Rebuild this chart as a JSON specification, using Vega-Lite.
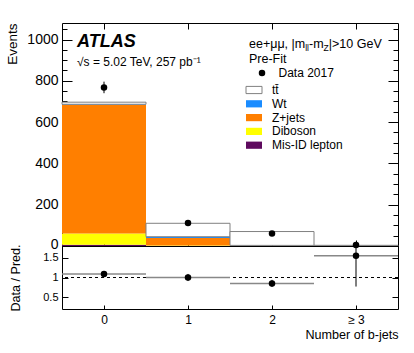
{
  "$schema": "https://vega.github.io/schema/vega-lite/v6.json",
  "padding": {"left": 5, "top": 22, "right": 17, "bottom": 10},
  "background": "white",
  "config": {
    "font": "Liberation Sans",
    "view": {"stroke": "#000000", "strokeWidth": 1},
    "axis": {"domain": false, "grid": false, "labelFont": "Liberation Sans", "titleFont": "Liberation Sans", "labelColor": "#000", "titleColor": "#000", "tickColor": "#000", "titleFontWeight": "normal"},
    "legend": {"labelFont": "Liberation Sans", "labelColor": "#000"}
  },
  "datasets": {
    "mc": [
      {"lo": -0.5, "hi": 0.5, "process": "Mis-ID lepton", "n": 6},
      {"lo": -0.5, "hi": 0.5, "process": "Diboson", "n": 54},
      {"lo": -0.5, "hi": 0.5, "process": "Z+jets", "n": 623},
      {"lo": -0.5, "hi": 0.5, "process": "Wt", "n": 3.5},
      {"lo": -0.5, "hi": 0.5, "process": "tt̄", "n": 10},
      {"lo": 0.5, "hi": 1.5, "process": "Mis-ID lepton", "n": 0.5},
      {"lo": 0.5, "hi": 1.5, "process": "Diboson", "n": 1.5},
      {"lo": 0.5, "hi": 1.5, "process": "Z+jets", "n": 37},
      {"lo": 0.5, "hi": 1.5, "process": "Wt", "n": 6},
      {"lo": 0.5, "hi": 1.5, "process": "tt̄", "n": 65},
      {"lo": 1.5, "hi": 2.5, "process": "Mis-ID lepton", "n": 0},
      {"lo": 1.5, "hi": 2.5, "process": "Diboson", "n": 0.3},
      {"lo": 1.5, "hi": 2.5, "process": "Z+jets", "n": 1.0},
      {"lo": 1.5, "hi": 2.5, "process": "Wt", "n": 1.7},
      {"lo": 1.5, "hi": 2.5, "process": "tt̄", "n": 67},
      {"lo": 2.5, "hi": 3.5, "process": "Mis-ID lepton", "n": 0},
      {"lo": 2.5, "hi": 3.5, "process": "Diboson", "n": 0},
      {"lo": 2.5, "hi": 3.5, "process": "Z+jets", "n": 0.1},
      {"lo": 2.5, "hi": 3.5, "process": "Wt", "n": 0.2},
      {"lo": 2.5, "hi": 3.5, "process": "tt̄", "n": 3.0}
    ],
    "obs": [
      {"b": 0, "lo": -0.5, "hi": 0.5, "n": 768, "nlo": 740, "nhi": 796, "r": 1.09, "rlo": 1.05, "rhi": 1.13},
      {"b": 1, "lo": 0.5, "hi": 1.5, "n": 111, "nlo": 100.5, "nhi": 121.5, "r": 1.0, "rlo": 0.91, "rhi": 1.09},
      {"b": 2, "lo": 1.5, "hi": 2.5, "n": 60, "nlo": 52.3, "nhi": 67.7, "r": 0.85, "rlo": 0.76, "rhi": 0.94},
      {"b": 3, "lo": 2.5, "hi": 3.5, "n": 5, "nlo": 2.8, "nhi": 7.2, "r": 1.55, "rlo": 0.77, "rhi": 2.3}
    ],
    "one": [{}]
  },
  "spacing": 0,
  "bounds": "flush",
  "vconcat": [
    {
      "width": 336,
      "height": 223,
      "resolve": {"axis": {"x": "independent", "y": "independent"}},
      "layer": [
        {
          "data": {"name": "mc"},
          "transform": [
            {"calculate": "indexof(['Mis-ID lepton','Diboson','Z+jets','Wt','tt̄'], datum.process)", "as": "ord"},
            {"stack": "n", "groupby": ["lo"], "sort": [{"field": "ord", "order": "ascending"}], "as": ["n0", "n1"]}
          ],
          "mark": {"type": "rect", "strokeWidth": 1},
          "encoding": {
            "x": {"field": "lo", "type": "quantitative", "scale": {"domain": [-0.5, 3.5], "nice": false, "zero": false},
              "axis": {"orient": "bottom", "values": [0, 1, 2, 3], "labels": false, "title": null, "tickSize": -6, "ticks": true}},
            "x2": {"field": "hi"},
            "y": {"field": "n0", "type": "quantitative", "scale": {"domain": [0, 1080], "nice": false},
              "axis": {"orient": "left", "values": [0,50,100,150,200,250,300,350,400,450,500,550,600,650,700,750,800,850,900,950,1000,1050],
                "labelExpr": "datum.value % 200 === 0 ? format(datum.value, 'd') : ''",
                "tickSize": {"condition": {"test": "datum.value % 200 === 0", "value": -10}, "value": -5},
                "labelOffset": {"condition": {"test": "datum.value === 0", "value": -1.5}, "value": 0},
                "labelPadding": 14, "labelFontSize": 14,
                "title": "Events", "titleFontSize": 13.5, "titleAnchor": "end", "titlePadding": 7}},
            "y2": {"field": "n1"},
            "fill": {"field": "process", "type": "nominal",
              "scale": {"domain": ["tt̄", "Wt", "Z+jets", "Diboson", "Mis-ID lepton"], "range": ["#ffffff", "#1a8cff", "#ff7f00", "#ffff00", "#5e0a5e"]},
              "legend": {"orient": "none", "legendX": 186, "legendY": 61, "title": null, "labelFontSize": 12, "labelOffset": 12,
                "symbolType": "M-2,-0.9H2V0.9H-2Z", "symbolSize": 64, "rowPadding": 1.8, "symbolStrokeWidth": 1, "symbolStrokeColor": "#808080",
                "encode": {"symbols": {"update": {"stroke": {"signal": "datum.index === 0 ? '#808080' : 'transparent'"}, "strokeWidth": {"value": 1}}}}}},
            "stroke": {"condition": {"test": "datum.process === 'tt̄'", "value": "#808080"}, "value": null}
          }
        },
        {
          "data": {"name": "obs"},
          "mark": {"type": "rule", "color": "#000", "strokeWidth": 1, "clip": true},
          "encoding": {
            "x": {"field": "b", "type": "quantitative", "axis": null},
            "y": {"field": "nlo", "type": "quantitative", "axis": null},
            "y2": {"field": "nhi"}
          }
        },
        {
          "data": {"name": "obs"},
          "mark": {"type": "point", "filled": true, "color": "#000", "size": 42, "opacity": 1},
          "encoding": {
            "x": {"field": "b", "type": "quantitative", "axis": {"orient": "top", "values": [0, 1, 2, 3], "labels": false, "title": null, "tickSize": -6}},
            "y": {"field": "n", "type": "quantitative", "axis": {"orient": "right", "values": [0,50,100,150,200,250,300,350,400,450,500,550,600,650,700,750,800,850,900,950,1000,1050], "labels": false, "title": null,
              "tickSize": {"condition": {"test": "datum.value % 200 === 0", "value": -10}, "value": -5}}},
            "shape": {"datum": "Data 2017", "scale": {"range": ["circle"]},
              "legend": {"orient": "none", "legendX": 194, "legendY": 44, "title": null, "labelFontSize": 12, "labelOffset": 10.5, "symbolSize": 42, "symbolFillColor": "#000", "symbolStrokeWidth": 0}}
          }
        },
        {
          "data": {"name": "one"},
          "mark": {"type": "text", "text": "ATLAS", "font": "Liberation Sans", "fontSize": 18, "fontWeight": "bold", "fontStyle": "italic", "align": "left", "baseline": "alphabetic"},
          "encoding": {"x": {"datum": -0.32, "type": "quantitative", "axis": null}, "y": {"datum": 965, "type": "quantitative", "axis": null}}
        },
        {
          "data": {"name": "one"},
          "mark": {"type": "text", "text": "√s = 5.02 TeV, 257 pb⁻¹", "font": "Liberation Sans", "fontSize": 12, "align": "left", "baseline": "alphabetic"},
          "encoding": {"x": {"datum": -0.321, "type": "quantitative", "axis": null}, "y": {"datum": 872, "type": "quantitative", "axis": null}}
        },
        {
          "data": {"name": "one"},
          "mark": {"type": "text", "text": "ee+μμ, |m", "font": "Liberation Sans", "fontSize": 12.5, "align": "left", "baseline": "alphabetic"},
          "encoding": {"x": {"datum": 1.726, "type": "quantitative", "axis": null}, "y": {"datum": 958, "type": "quantitative", "axis": null}}
        },
        {
          "data": {"name": "one"},
          "mark": {"type": "text", "text": "ll", "font": "Liberation Sans", "fontSize": 8.5, "align": "left", "baseline": "alphabetic", "dx": 56.2, "dy": 3},
          "encoding": {"x": {"datum": 1.726, "type": "quantitative", "axis": null}, "y": {"datum": 958, "type": "quantitative", "axis": null}}
        },
        {
          "data": {"name": "one"},
          "mark": {"type": "text", "text": "-m", "font": "Liberation Sans", "fontSize": 12.5, "align": "left", "baseline": "alphabetic", "dx": 60},
          "encoding": {"x": {"datum": 1.726, "type": "quantitative", "axis": null}, "y": {"datum": 958, "type": "quantitative", "axis": null}}
        },
        {
          "data": {"name": "one"},
          "mark": {"type": "text", "text": "Z", "font": "Liberation Sans", "fontSize": 8.5, "align": "left", "baseline": "alphabetic", "dx": 74.6, "dy": 3},
          "encoding": {"x": {"datum": 1.726, "type": "quantitative", "axis": null}, "y": {"datum": 958, "type": "quantitative", "axis": null}}
        },
        {
          "data": {"name": "one"},
          "mark": {"type": "text", "text": "|>10 GeV", "font": "Liberation Sans", "fontSize": 12.5, "align": "left", "baseline": "alphabetic", "dx": 79.8},
          "encoding": {"x": {"datum": 1.726, "type": "quantitative", "axis": null}, "y": {"datum": 958, "type": "quantitative", "axis": null}}
        },
        {
          "data": {"name": "one"},
          "mark": {"type": "text", "text": "Pre-Fit", "font": "Liberation Sans", "fontSize": 12.5, "align": "left", "baseline": "alphabetic"},
          "encoding": {"x": {"datum": 1.726, "type": "quantitative", "axis": null}, "y": {"datum": 888, "type": "quantitative", "axis": null}}
        }
      ]
    },
    {
      "width": 336,
      "height": 63,
      "data": {"name": "obs"},
      "resolve": {"axis": {"x": "independent", "y": "independent"}},
      "layer": [
        {
          "mark": {"type": "rule", "color": "#000", "strokeDash": [3, 3], "strokeWidth": 1},
          "encoding": {"y": {"datum": 1, "type": "quantitative", "axis": null}}
        },
        {
          "mark": {"type": "rule", "color": "#888888", "strokeWidth": 1.5},
          "encoding": {
            "x": {"field": "lo", "type": "quantitative", "scale": {"domain": [-0.5, 3.5], "nice": false, "zero": false},
              "axis": {"orient": "bottom", "values": [0, 1, 2, 3], "labelExpr": "datum.value === 3 ? '≥ 3' : format(datum.value, 'd')",
                "labelFontSize": 12, "tickSize": -4, "labelPadding": 9, "title": "Number of b-jets", "titleFontSize": 12.6, "titleAnchor": "end", "titlePadding": 3}},
            "x2": {"field": "hi"},
            "y": {"field": "r", "type": "quantitative", "scale": {"domain": [0.2, 1.8], "nice": false, "zero": false},
              "axis": {"orient": "left", "values": [0.5, 1, 1.5], "format": "~g", "labelFontSize": 11, "tickSize": -6, "labelPadding": 10,
                "title": "Data / Pred.", "titleFontSize": 12.6, "titleAnchor": "middle", "titlePadding": 20}}
          }
        },
        {
          "mark": {"type": "rule", "color": "#000", "strokeWidth": 1, "clip": true},
          "encoding": {
            "x": {"field": "b", "type": "quantitative", "axis": null},
            "y": {"field": "rlo", "type": "quantitative", "axis": null},
            "y2": {"field": "rhi"}
          }
        },
        {
          "mark": {"type": "circle", "color": "#000", "size": 42, "opacity": 1},
          "encoding": {
            "x": {"field": "b", "type": "quantitative", "axis": null},
            "y": {"field": "r", "type": "quantitative", "axis": {"orient": "right", "values": [0.5, 1, 1.5], "labels": false, "title": null, "tickSize": -6}}
          }
        }
      ]
    }
  ]
}
